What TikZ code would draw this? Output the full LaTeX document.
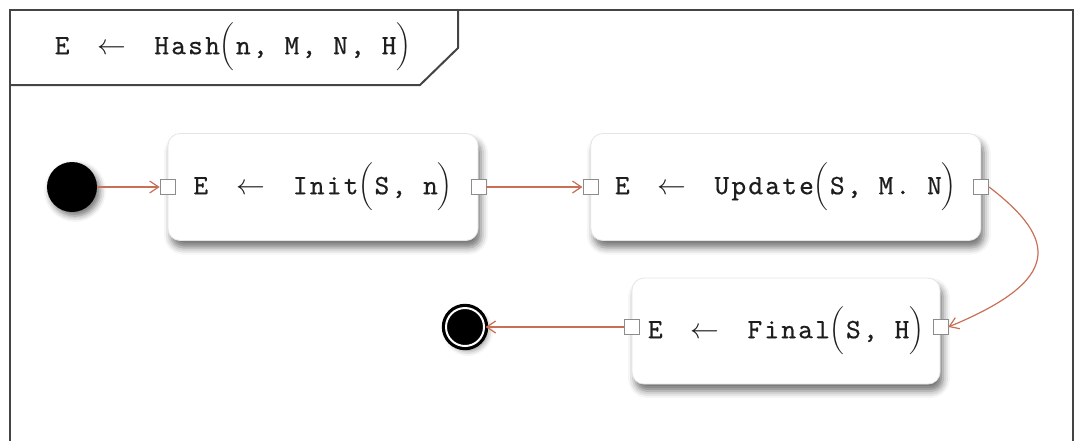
\documentclass[tikz,border=0pt]{standalone}
\usepackage{fontspec}
\newfontfamily\codefont{lmmono10-regular.otf}[FakeBold=0.5, LetterSpace=8]
\usetikzlibrary{arrows.meta}
\usetikzlibrary{positioning}
\usetikzlibrary{shadows.blur}

\definecolor{flow}{RGB}{200,112,86}
\definecolor{framegray}{RGB}{68,68,68}
\definecolor{ink}{RGB}{30,30,30}

\newcommand{\callop}[2]{{\codefont E}\hspace{1.0em}$\leftarrow$\hspace{1.0em}{\codefont #1}$\bigg($\hspace{0.05em}{\codefont #2}$\bigg)$}

\begin{document}
\begin{tikzpicture}[x=0.5pt, y=-0.5pt,
        font=\fontsize{14}{16}\selectfont, text=ink,
        action/.style={rectangle, rounded corners=6pt, fill=white,
            draw=black!10, minimum width=155pt, minimum height=53.5pt,
            blur shadow={shadow xshift=1.5pt, shadow yshift=-3.5pt,
                shadow blur radius=3.5pt, shadow opacity=55}},
        port/.style={rectangle, draw=black!45, fill=white, line width=0.4pt,
            minimum size=7.5pt, inner sep=0pt},
        start/.style={circle, fill=black, minimum size=25pt, inner sep=0pt,
            blur shadow={shadow xshift=1.5pt, shadow yshift=-2pt,
                shadow blur radius=3pt, shadow opacity=55}},
        stop/.style={circle, fill=black, draw=black, double=white,
            double distance=1pt, line width=1.6pt, minimum size=19pt, inner sep=0pt,
            blur shadow={shadow xshift=1.5pt, shadow yshift=-2pt,
                shadow blur radius=3pt, shadow opacity=55}},
        frame/.style={draw=framegray, line width=1pt},
        flowline/.style={draw=flow, line width=0.6pt,
            -{Straight Barb[length=4.5pt, width=6pt]}}]

    \useasboundingbox (0,0) rectangle (1077,441);

    % outer frame and title tab
    \draw[frame] (10,441) -- (10,10) -- (1073,10) -- (1073,441);
    \draw[frame] (10,85) -- (420,85) -- (458,48) -- (458,10);
    \node (title) at (233,47) {\callop{Hash}{n,~M,~N,~H}};

    % actions
    \node[action] (init)                         at (323,187) {\callop{Init}{S,~n}};
    \node[action, minimum width=195pt] (update) [right = 56pt of init] {\callop{Update}{S,~M.~N}};
    \node[action, minimum width=154pt, minimum height=53pt] (final) at (786,331) {\callop{Final}{S,~H}};

    % pins
    \node[port] (init-in)    at (init.west)   {};
    \node[port] (init-out)   at (init.east)   {};
    \node[port] (update-in)  at (update.west) {};
    \node[port] (update-out) at (update.east) {};
    \node[port] (final-in)   at (final.east |- 0,327) {};
    \node[port] (final-out)  at (final.west |- 0,327) {};

    % initial and final nodes
    \node[start] (begin) at (72,187) {};
    \node[stop]  (end)   at (465,327) {};

    \path[flowline]
        (begin) edge (init-in)
        (init-out) edge (update-in)
        (final-out) edge (end);
    \draw[flowline] (update-out.east) .. controls (1058,240) and (1062,280) .. (final-in.east);

\end{tikzpicture}
\end{document}
